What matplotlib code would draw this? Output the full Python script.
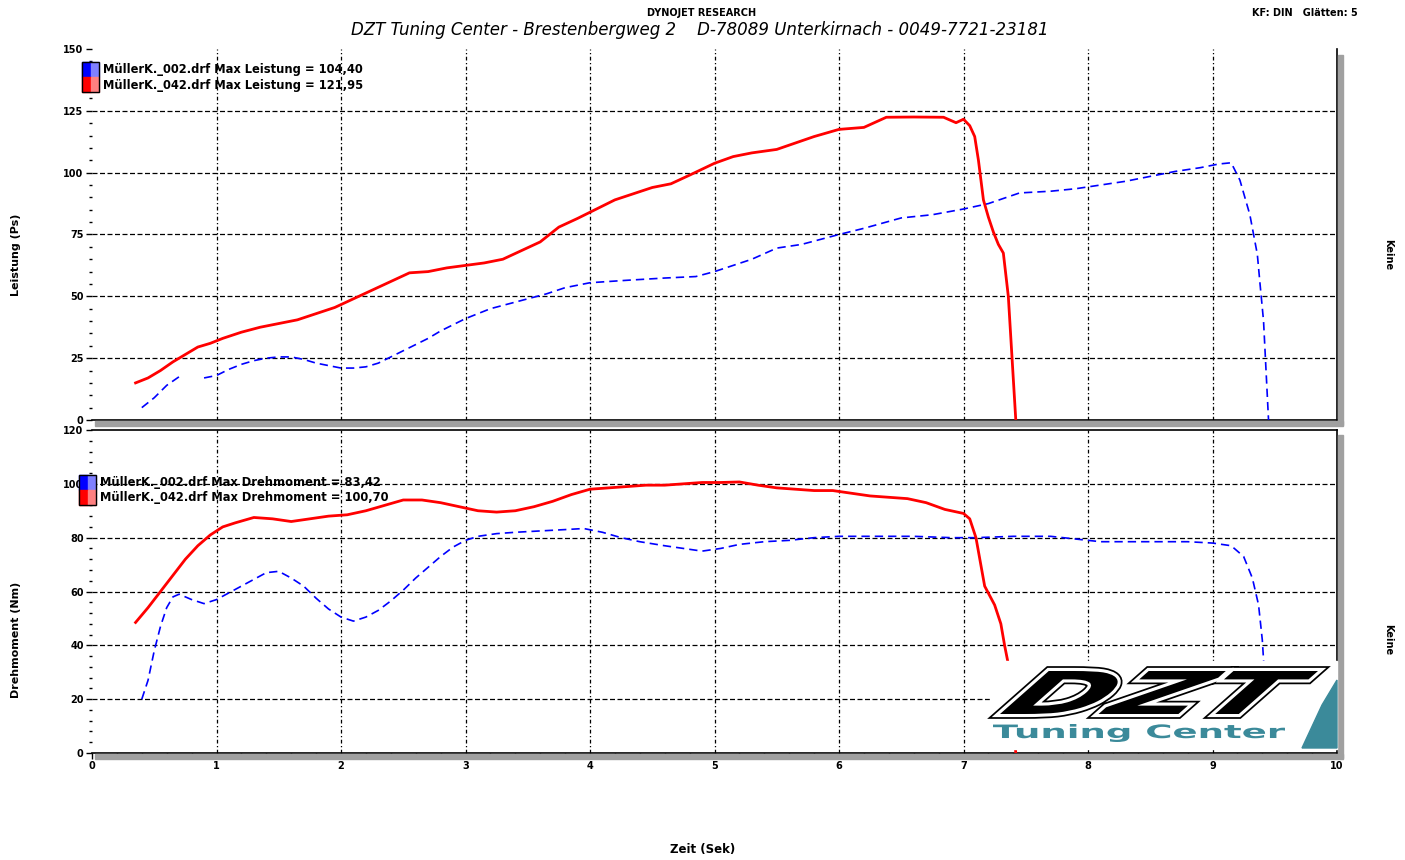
import numpy as np
import matplotlib
matplotlib.use("Agg")
import matplotlib.pyplot as plt
from matplotlib.patches import Rectangle, Polygon, PathPatch
from matplotlib.textpath import TextPath
from matplotlib.font_manager import FontProperties
from matplotlib.transforms import Affine2D
import matplotlib.patheffects as pe

# ---- data ----
# Leistung (Ps), run 042 (red)
t_p042 = [0.35, 0.45, 0.55, 0.65, 0.75, 0.85, 0.95, 1.05, 1.2, 1.35, 1.5, 1.65, 1.8, 1.95,
          2.1, 2.25, 2.4, 2.55, 2.7, 2.85, 3.0, 3.15, 3.3, 3.45, 3.6, 3.75, 3.9, 4.0, 4.2,
          4.35, 4.5, 4.65, 4.8, 5.0, 5.15, 5.3, 5.5, 5.65, 5.8, 6.0, 6.2, 6.38, 6.6, 6.84,
          6.94, 7.0, 7.05, 7.09, 7.12, 7.16, 7.2, 7.24, 7.28, 7.32, 7.36, 7.39, 7.42]
p042 = [15, 17, 20, 23.5, 26.5, 29.5, 31, 33, 35.5, 37.5, 39, 40.5, 43, 45.5,
        49, 52.5, 56, 59.5, 60, 61.5, 62.5, 63.5, 65, 68.5, 72, 78, 81.5, 84, 89,
        91.5, 94, 95.5, 99, 103.8, 106.5, 108, 109.4, 112, 114.6, 117.5, 118.3, 122.4, 122.5, 122.4,
        120.2, 121.6, 119, 114.6, 105, 89, 82, 76, 71, 67.5, 50, 25, 0]

# Leistung (Ps), run 002 (blue)
t_p002 = [0.4, 0.5, 0.6, 0.7, 0.8, 0.9, 1.0, 1.1, 1.2, 1.3, 1.4, 1.5, 1.6, 1.7, 1.8, 1.9,
          2.0, 2.1, 2.2, 2.3, 2.4, 2.5, 2.6, 2.7, 2.8, 2.9, 3.0, 3.1, 3.2, 3.35, 3.5, 3.65,
          3.8, 4.0, 4.3, 4.6, 4.85, 5.0, 5.15, 5.3, 5.5, 5.7, 5.85, 6.0, 6.2, 6.5, 6.75,
          7.0, 7.2, 7.45, 7.7, 7.9, 8.1, 8.3, 8.5, 8.7, 8.9, 9.05, 9.15, 9.22, 9.3, 9.36,
          9.38, 9.41, 9.45]
p002 = [5, 9, 14, 17.5, np.nan, 17, 18, 20.5, 22.5, 24, 25, 25.5, 25.5, 24.5, 23, 22,
        21, 21, 21.5, 23, 25.5, 28, 30.5, 33, 36, 38.5, 41, 43, 45, 47, 49, 51,
        53.5, 55.5, 56.5, 57.4, 58, 60, 62.5, 65, 69.5, 71, 73, 75, 77.5, 81.7, 83,
        85.3, 87.5, 91.8, 92.5, 93.5, 95, 96.5, 98.5, 100.5, 102, 103.5, 104, 97, 83, 67,
        56, 40, 0]

# Drehmoment (Nm), run 042 (red)
t_m042 = [0.35, 0.45, 0.55, 0.65, 0.75, 0.85, 0.95, 1.05, 1.15, 1.3, 1.45, 1.6, 1.75, 1.9,
          2.05, 2.2, 2.35, 2.5, 2.65, 2.8, 2.95, 3.1, 3.25, 3.4, 3.55, 3.7, 3.85, 4.0, 4.15,
          4.3, 4.45, 4.6, 4.75, 4.9, 5.05, 5.2, 5.35, 5.5, 5.65, 5.8, 5.95, 6.1, 6.25, 6.4,
          6.55, 6.7, 6.85, 7.0, 7.05, 7.1, 7.17, 7.25, 7.3, 7.33, 7.36, 7.4, 7.42]
m042 = [48.5, 54, 60, 66, 72, 77, 81, 84, 85.5, 87.5, 87, 86, 87, 88,
        88.5, 90, 92, 94, 94, 93, 91.5, 90, 89.5, 90, 91.5, 93.5, 96, 98, 98.5,
        99, 99.5, 99.5, 100, 100.5, 100.5, 100.7, 99.5, 98.5, 98, 97.5, 97.5, 96.5, 95.5, 95,
        94.5, 93, 90.5, 89, 87, 80, 62, 55, 48, 40, 33, 10, 0]

# Drehmoment (Nm), run 002 (blue)
t_m002 = [0.4, 0.45, 0.5, 0.55, 0.6, 0.65, 0.7, 0.8, 0.9, 1.0, 1.1, 1.2, 1.3, 1.4, 1.5, 1.6,
          1.7, 1.8, 1.9, 2.0, 2.1, 2.2, 2.3, 2.4, 2.5, 2.6, 2.7, 2.8, 2.9, 3.0, 3.1, 3.25,
          3.4, 3.6, 3.8, 3.95, 4.1, 4.25, 4.4, 4.6, 4.75, 4.9, 5.05, 5.2, 5.4, 5.6, 5.8,
          6.0, 6.3, 6.6, 6.9, 7.1, 7.4, 7.7, 7.9, 8.1, 8.4, 8.6, 8.8, 9.0, 9.15, 9.25,
          9.32, 9.37, 9.4, 9.43, 9.45]
m002 = [20, 27, 38, 47, 54, 58, 59, 57, 55.5, 57, 59.5, 62, 64.5, 67, 67.5, 65,
        62, 57.5, 53.5, 50.5, 49, 50.5, 53, 56.5, 60.5, 65, 69, 73, 76.5, 79, 80.5, 81.5,
        82, 82.5, 83, 83.4, 82, 80, 78.5, 77, 76, 75, 76, 77.5, 78.5, 79, 80,
        80.5, 80.5, 80.5, 80, 80, 80.5, 80.5, 79.5, 78.5, 78.5, 78.5, 78.5, 78, 77, 73,
        65, 55, 42, 20, 0]

legend_top = ["MüllerK._002.drf Max Leistung = 104,40",
              "MüllerK._042.drf Max Leistung = 121,95"]
legend_bot = ["MüllerK._002.drf Max Drehmoment = 83,42",
              "MüllerK._042.drf Max Drehmoment = 100,70"]

W, H = 1405, 860
fig = plt.figure(figsize=(W / 100, H / 100), dpi=100)
fig.patch.set_facecolor("white")


def fx(px):
    return px / W


def fy(py):
    return 1 - py / H


ax1 = fig.add_axes([fx(92), fy(420), fx(1337) - fx(92), fy(49) - fy(420)])
ax2 = fig.add_axes([fx(92), fy(753), fx(1337) - fx(92), fy(430) - fy(753)])

for ax, ymax, ystep, ymin_step in [(ax1, 150, 25, 5), (ax2, 120, 20, 4)]:
    ax.set_xlim(0, 10)
    ax.set_ylim(0, ymax)
    ax.set_xticks(np.arange(0, 11, 1))
    ax.set_xticks(np.arange(0, 10.01, 0.2), minor=True)
    ax.set_yticks(np.arange(0, ymax + 1, ystep))
    ax.set_yticks(np.arange(0, ymax + 0.1, ymin_step), minor=True)
    ax.grid(False)
    for x in range(1, 10):
        ax.axvline(x, color="black", lw=0.9, ls=(0, (3, 2, 1, 2)), zorder=1)
    for y in range(ystep, ymax, ystep):
        ax.axhline(y, color="black", lw=0.9, ls=(0, (4, 2)), zorder=1)
    ax.tick_params(axis="both", which="major", direction="out", length=4, width=1,
                   labelsize=7, pad=2)
    ax.tick_params(axis="both", which="minor", direction="out", length=2.5, width=1)
    ax.spines["left"].set_visible(False)
    ax.spines["right"].set_linewidth(1.2)
    ax.spines["bottom"].set_linewidth(1.2)
    for lab in ax.get_yticklabels():
        lab.set_fontweight("bold")

ax1.spines["top"].set_visible(False)
ax1.tick_params(axis="x", which="both", bottom=False, labelbottom=False)
ax2.spines["top"].set_linewidth(1.2)
for lab in ax2.get_xticklabels():
    lab.set_fontweight("bold")

# curves
ax1.plot(t_p002, p002, color="#0000ff", lw=1.2, ls=(0, (5, 3)), zorder=3)
ax1.plot(t_p042, p042, color="#ff0000", lw=2.0, zorder=4)
ax2.plot(t_m002, m002, color="#0000ff", lw=1.2, ls=(0, (5, 3)), zorder=3)
ax2.plot(t_m042, m042, color="#ff0000", lw=2.0, zorder=4)

# 3d shadow of the frames
shade = "#a0a0a0"
fig.patches.append(Rectangle((fx(1338), fy(425)), fx(5), fy(55) - fy(425),
                             transform=fig.transFigure, color=shade, zorder=2))
fig.patches.append(Rectangle((fx(95), fy(426)), fx(1343) - fx(95), fy(421) - fy(426),
                             transform=fig.transFigure, color=shade, zorder=2))
fig.patches.append(Rectangle((fx(1338), fy(758)), fx(5), fy(435) - fy(758),
                             transform=fig.transFigure, color=shade, zorder=2))
fig.patches.append(Rectangle((fx(95), fy(759)), fx(1343) - fx(95), fy(754) - fy(759),
                             transform=fig.transFigure, color=shade, zorder=2))

# legends
def legend_block(x0, y0, lines):
    cols = [("#0000ff", "#8080ff"), ("#ff0000", "#ff8080")]
    for i, (txt, (c1, c2)) in enumerate(zip(lines, cols)):
        top = y0 + i * 15
        fig.patches.append(Rectangle((fx(x0), fy(top + 15)), fx(9), fy(top) - fy(top + 15),
                                     transform=fig.transFigure, color=c1, zorder=6))
        fig.patches.append(Rectangle((fx(x0 + 9), fy(top + 15)), fx(8), fy(top) - fy(top + 15),
                                     transform=fig.transFigure, color=c2, zorder=6))
        fig.text(fx(x0 + 21), fy(top + 8), txt, fontsize=8.3, fontweight="bold",
                 va="center", ha="left", zorder=7)
    fig.patches.append(Rectangle((fx(x0), fy(y0 + 30)), fx(17), fy(y0) - fy(y0 + 30),
                                 transform=fig.transFigure, fill=False, ec="black",
                                 lw=1, zorder=7))


legend_block(82, 62, legend_top)
legend_block(79, 475, legend_bot)

# titles and labels
fig.text(fx(702), fy(13), "DYNOJET RESEARCH", fontsize=7, fontweight="bold",
         ha="center", va="center")
fig.text(fx(700), fy(30), "DZT Tuning Center - Brestenbergweg 2    D-78089 Unterkirnach - 0049-7721-23181",
         fontsize=12, style="italic", ha="center", va="center")
fig.text(fx(1305), fy(13), "KF: DIN   Glätten: 5", fontsize=7, fontweight="bold",
         ha="center", va="center")
fig.text(fx(16), fy(255), "Leistung (Ps)", fontsize=8, fontweight="bold",
         rotation=90, ha="center", va="center")
fig.text(fx(16), fy(640), "Drehmoment (Nm)", fontsize=8, fontweight="bold",
         rotation=90, ha="center", va="center")
fig.text(fx(1388), fy(255), "Keine", fontsize=7, fontweight="bold",
         rotation=-90, ha="center", va="center")
fig.text(fx(1388), fy(640), "Keine", fontsize=7, fontweight="bold",
         rotation=-90, ha="center", va="center")
fig.text(fx(703), fy(850), "Zeit (Sek)", fontsize=8.5, fontweight="bold",
         ha="center", va="center")

# logo
fig.patches.append(Rectangle((fx(990), fy(749)), fx(1337) - fx(990), fy(661) - fy(749),
                             transform=fig.transFigure, color="white", zorder=8))
fig.patches.append(Polygon([(fx(1302), fy(748)), (fx(1337), fy(748)), (fx(1337), fy(680)),
                            (fx(1322), fy(705))], closed=True,
                           transform=fig.transFigure, color="#3b8a9a", zorder=9))


def fitted_text(s, x0, y0, x1, y1, skew, **kw):
    tp = TextPath((0, 0), s, size=1, prop=FontProperties(family="DejaVu Sans", weight="bold"))
    bb = tp.get_extents()
    sk = np.tan(np.radians(skew)) * bb.height
    tr = (Affine2D().translate(-bb.x0, -bb.y0).skew_deg(skew, 0)
          .scale((x1 - x0) / (bb.width + sk), (y1 - y0) / bb.height)
          .translate(x0, H - y1).scale(1 / W, 1 / H) + fig.transFigure)
    patch = PathPatch(tp, transform=tr, zorder=10, **kw)
    fig.patches.append(patch)
    return patch


dzt = fitted_text("DZT", 1000, 671, 1318, 714, 28, facecolor="black", edgecolor="none")
dzt.set_path_effects([pe.Stroke(linewidth=7, foreground="black"),
                      pe.Stroke(linewidth=4.5, foreground="white"), pe.Normal()])
fitted_text("Tuning Center", 993, 724, 1285, 742, 0, facecolor="#3b8a9a", edgecolor="none")

fig.savefig("out.png", dpi=100, facecolor="white")
